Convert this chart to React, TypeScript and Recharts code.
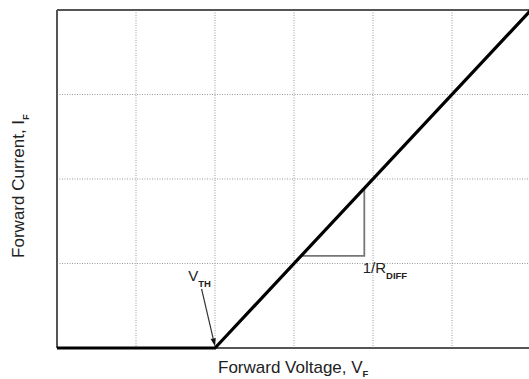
import React from "react";
import { ComposedChart, Line, XAxis, YAxis, CartesianGrid, ReferenceLine, ReferenceDot } from "recharts";

// idealised diode I-V: flat until V_TH, then a straight rise of slope 1/R_DIFF
const vTicks = [0, 1, 2, 3, 4, 5, 6];
const iTicks = [0, 1, 2, 3, 4];
const ivCurve = [
  { v: 0, i: 0 },
  { v: 2, i: 0 },
  { v: 6, i: 4 },
];
// slope triangle under the rising part
const slopeTriangle = [
  { v: 3.09, i: 1.09 },
  { v: 3.89, i: 1.09 },
  { v: 3.89, i: 1.89 },
];
const vthArrow = [
  { x: 1.83, y: 0.7 },
  { x: 2.0, y: 0.02 },
];
const vthLabel = { v: 1.66, i: 0.79 };
const rdiffLabel = { v: 3.87, i: 0.89 };

const FONT = "'Liberation Sans', Arial, Helvetica, sans-serif";
const INK = "#222";
const FRAME = "#555";

function ArrowShape(props: any) {
  const { x1, y1, x2, y2 } = props;
  const ang = Math.atan2(y2 - y1, x2 - x1);
  const len = 8;
  const half = 2.6;
  const bx = x2 - len * Math.cos(ang);
  const by = y2 - len * Math.sin(ang);
  const px = -Math.sin(ang) * half;
  const py = Math.cos(ang) * half;
  return (
    <g>
      <line x1={x1} y1={y1} x2={bx} y2={by} stroke="#333" strokeWidth={1.2} />
      <polygon points={`${x2},${y2} ${bx + px},${by + py} ${bx - px},${by - py}`} fill="#111" />
    </g>
  );
}

function SubLabel(main: string, sub: string) {
  return (props: any) => (
    <text x={props.cx} y={props.cy} fontFamily={FONT} fill={INK} fontSize={15}>
      {main}
      <tspan fontSize={9.5} fontWeight="bold" dy={6}>
        {sub}
      </tspan>
    </text>
  );
}

export default function App() {
  return (
    <div style={{ position: "absolute", left: 0, top: 0, width: 529, height: 379, overflow: "hidden", background: "#fff" }}>
      <ComposedChart width={540} height={379} margin={{ top: 10, right: 9, bottom: 31, left: 57 }}>
        <XAxis dataKey="v" type="number" domain={[0, 6]} ticks={vTicks} hide />
        <YAxis dataKey="i" type="number" domain={[0, 4]} ticks={iTicks} hide />
        <CartesianGrid stroke="#9a9a9a" strokeDasharray="1 1.5" />
        <ReferenceLine y={4} stroke={FRAME} strokeWidth={2} ifOverflow="visible" />
        <ReferenceLine x={0} stroke={FRAME} strokeWidth={2} ifOverflow="visible" />
        <ReferenceLine segment={[{ x: 2, y: 0 }, { x: 6, y: 0 }]} stroke={FRAME} strokeWidth={2} ifOverflow="visible" />
        <Line data={slopeTriangle} dataKey="i" type="linear" stroke="#777" strokeWidth={1.8} dot={false} isAnimationActive={false} />
        <Line data={ivCurve} dataKey="i" type="linear" stroke="#000" strokeWidth={3.2} dot={false} isAnimationActive={false} />
        <ReferenceLine segment={vthArrow} shape={ArrowShape} ifOverflow="visible" />
        <ReferenceDot x={vthLabel.v} y={vthLabel.i} r={0} shape={SubLabel("V", "TH")} ifOverflow="visible" />
        <ReferenceDot x={rdiffLabel.v} y={rdiffLabel.i} r={0} shape={SubLabel("1/R", "DIFF")} ifOverflow="visible" />
      </ComposedChart>
      <svg width={529} height={379} style={{ position: "absolute", left: 0, top: 0, pointerEvents: "none" }}>
        <text x={218} y={373} fontFamily={FONT} fontSize={17} fill={INK}>
          Forward Voltage, V
          <tspan fontSize={9.5} fontWeight="bold" dy={4}>F</tspan>
        </text>
        <text transform="translate(24,186) rotate(-90)" textAnchor="middle" fontFamily={FONT} fontSize={17} fill={INK}>
          Forward Current, I
          <tspan fontSize={9.5} fontWeight="bold" dy={5}>F</tspan>
        </text>
      </svg>
    </div>
  );
}
